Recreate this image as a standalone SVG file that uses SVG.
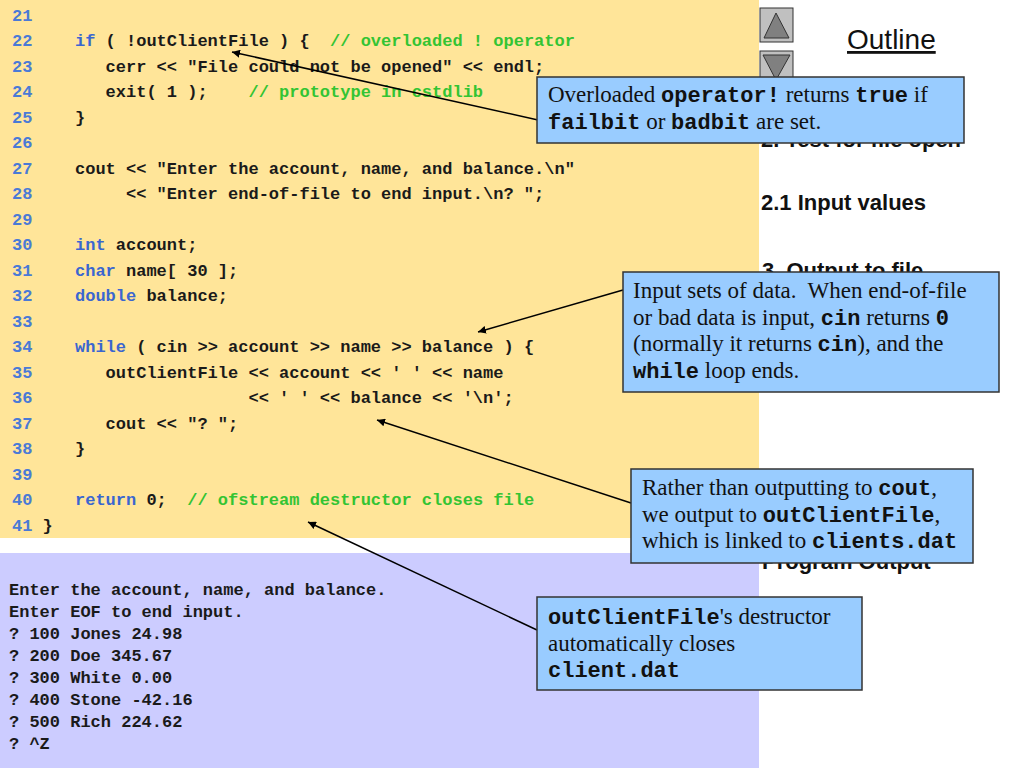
<svg xmlns="http://www.w3.org/2000/svg" width="1024" height="768" viewBox="0 0 1024 768">
<defs>
<style>
.code{font-family:"Liberation Mono","Courier New",monospace;font-size:17px;font-weight:bold;fill:#1a1a1a;white-space:pre}
.ln{font-family:"Liberation Mono","Courier New",monospace;font-size:17px;font-weight:bold;fill:#4a7ad6}
.kw{fill:#3a66d0}
.cm{fill:#33c433}
.out{font-family:"Liberation Mono","Courier New",monospace;font-size:17px;font-weight:bold;fill:#1a1a1a}
.side{font-family:"Liberation Sans",Arial,sans-serif;font-size:22px;font-weight:bold;fill:#111}
.box{fill:#99ccff;stroke:#333;stroke-width:1.5}
.ct{font-family:"Liberation Serif","Times New Roman",serif;font-size:23px;fill:#111}
.m{font-family:"Liberation Mono","Courier New",monospace;font-weight:bold;font-size:22px}
.btn{fill:#c0c0c0;stroke:#333;stroke-width:1}
.tri{fill:#808080;stroke:#333;stroke-width:1}
.conn{stroke:#000;stroke-width:1.5;fill:none;marker-end:url(#ah)}
</style>
<marker id="ah" viewBox="0 0 10 10" refX="10" refY="5" markerWidth="8" markerHeight="8" markerUnits="userSpaceOnUse" orient="auto">
<path d="M0,0 L10,5 L0,10 z" fill="#000"/>
</marker>
</defs>
<rect width="1024" height="768" fill="#fff"/>
<rect id="code-panel" x="0" y="0" width="759" height="538" fill="#ffe599"/>
<rect id="output-panel" x="0" y="553" width="759" height="215" fill="#ccccff"/>

<g id="line-numbers" class="ln">
<text x="12" y="20.5">21</text>
<text x="12" y="46">22</text>
<text x="12" y="71.5">23</text>
<text x="12" y="97">24</text>
<text x="12" y="122.5">25</text>
<text x="12" y="148">26</text>
<text x="12" y="173.5">27</text>
<text x="12" y="199">28</text>
<text x="12" y="224.5">29</text>
<text x="12" y="250">30</text>
<text x="12" y="275.5">31</text>
<text x="12" y="301">32</text>
<text x="12" y="326.5">33</text>
<text x="12" y="352">34</text>
<text x="12" y="377.5">35</text>
<text x="12" y="403">36</text>
<text x="12" y="428.5">37</text>
<text x="12" y="454">38</text>
<text x="12" y="479.5">39</text>
<text x="12" y="505">40</text>
<text x="12" y="530.5">41</text>
</g>

<g id="code" class="code">
<text xml:space="preserve" x="75" y="46"><tspan class="kw">if</tspan> ( !outClientFile ) {  <tspan class="cm">// overloaded ! operator</tspan></text>
<text xml:space="preserve" x="75" y="71.5">   cerr &lt;&lt; "File could not be opened" &lt;&lt; endl;</text>
<text xml:space="preserve" x="75" y="97">   exit( 1 );    <tspan class="cm">// prototype in cstdlib</tspan></text>
<text xml:space="preserve" x="75" y="122.5">}</text>
<text xml:space="preserve" x="75" y="173.5">cout &lt;&lt; "Enter the account, name, and balance.\n"</text>
<text xml:space="preserve" x="75" y="199">     &lt;&lt; "Enter end-of-file to end input.\n? ";</text>
<text xml:space="preserve" x="75" y="250"><tspan class="kw">int</tspan> account;</text>
<text xml:space="preserve" x="75" y="275.5"><tspan class="kw">char</tspan> name[ 30 ];</text>
<text xml:space="preserve" x="75" y="301"><tspan class="kw">double</tspan> balance;</text>
<text xml:space="preserve" x="75" y="352"><tspan class="kw">while</tspan> ( cin &gt;&gt; account &gt;&gt; name &gt;&gt; balance ) {</text>
<text xml:space="preserve" x="75" y="377.5">   outClientFile &lt;&lt; account &lt;&lt; ' ' &lt;&lt; name</text>
<text xml:space="preserve" x="75" y="403">                 &lt;&lt; ' ' &lt;&lt; balance &lt;&lt; '\n';</text>
<text xml:space="preserve" x="75" y="428.5">   cout &lt;&lt; "? ";</text>
<text xml:space="preserve" x="75" y="454">}</text>
<text xml:space="preserve" x="75" y="505"><tspan class="kw">return</tspan> 0;  <tspan class="cm">// ofstream destructor closes file</tspan></text>
<text xml:space="preserve" x="42.6" y="530.5">}</text>
</g>

<g id="program-output" class="out">
<text x="9" y="595">Enter the account, name, and balance.</text>
<text x="9" y="617">Enter EOF to end input.</text>
<text x="9" y="639">? 100 Jones 24.98</text>
<text x="9" y="661">? 200 Doe 345.67</text>
<text x="9" y="683">? 300 White 0.00</text>
<text x="9" y="705">? 400 Stone -42.16</text>
<text x="9" y="727">? 500 Rich 224.62</text>
<text x="9" y="749">? ^Z</text>
</g>

<g id="outline-sidebar">
<text x="847" y="49" font-family="Liberation Sans, Arial, sans-serif" font-size="28" fill="#111" text-decoration="underline">Outline</text>
<text class="side" x="761" y="147">2. Test for file open</text>
<text class="side" x="761" y="210">2.1 Input values</text>
<text class="side" x="762" y="278">3. Output to file</text>
<text class="side" x="762" y="569">Program Output</text>
</g>

<g id="nav-up">
<rect class="btn" x="760" y="8" width="33" height="34"/>
<path class="tri" d="M776,13 L789,38 L764,38 z"/>
</g>
<g id="nav-down">
<rect class="btn" x="760" y="51" width="33" height="34"/>
<path class="tri" d="M763,55 L790,55 L776,80 z"/>
</g>

<g id="connectors">
<line class="conn" x1="538" y1="120" x2="232" y2="52"/>
<line class="conn" x1="623" y1="290" x2="478" y2="332"/>
<line class="conn" x1="631" y1="503" x2="377" y2="420"/>
<line class="conn" x1="537" y1="630" x2="308" y2="522"/>
</g>

<g id="callout-operator">
<rect class="box" x="537" y="77" width="427" height="66"/>
<text class="ct" x="548" y="102">Overloaded <tspan class="m">operator!</tspan> returns <tspan class="m">true</tspan> if</text>
<text class="ct" x="548" y="129"><tspan class="m">failbit</tspan> or <tspan class="m">badbit</tspan> are set.</text>
</g>

<g id="callout-input">
<rect class="box" x="623" y="272" width="376" height="120"/>
<text class="ct" x="633" y="298" xml:space="preserve">Input sets of data.  When end-of-file</text>
<text class="ct" x="633" y="325">or bad data is input, <tspan class="m">cin</tspan> returns <tspan class="m">0</tspan></text>
<text class="ct" x="633" y="351">(normally it returns <tspan class="m">cin</tspan>), and the</text>
<text class="ct" x="633" y="378"><tspan class="m">while</tspan> loop ends.</text>
</g>

<g id="callout-output">
<rect class="box" x="631" y="469" width="342" height="94"/>
<text class="ct" x="642" y="495">Rather than outputting to <tspan class="m">cout</tspan>,</text>
<text class="ct" x="642" y="522">we output to <tspan class="m">outClientFile</tspan>,</text>
<text class="ct" x="642" y="548">which is linked to <tspan class="m">clients.dat</tspan></text>
</g>

<g id="callout-destructor">
<rect class="box" x="537" y="597" width="325" height="93"/>
<text class="ct" x="548" y="624"><tspan class="m">outClientFile</tspan>'s destructor</text>
<text class="ct" x="548" y="651">automatically closes</text>
<text class="ct" x="548" y="677"><tspan class="m">client.dat</tspan></text>
</g>
</svg>
